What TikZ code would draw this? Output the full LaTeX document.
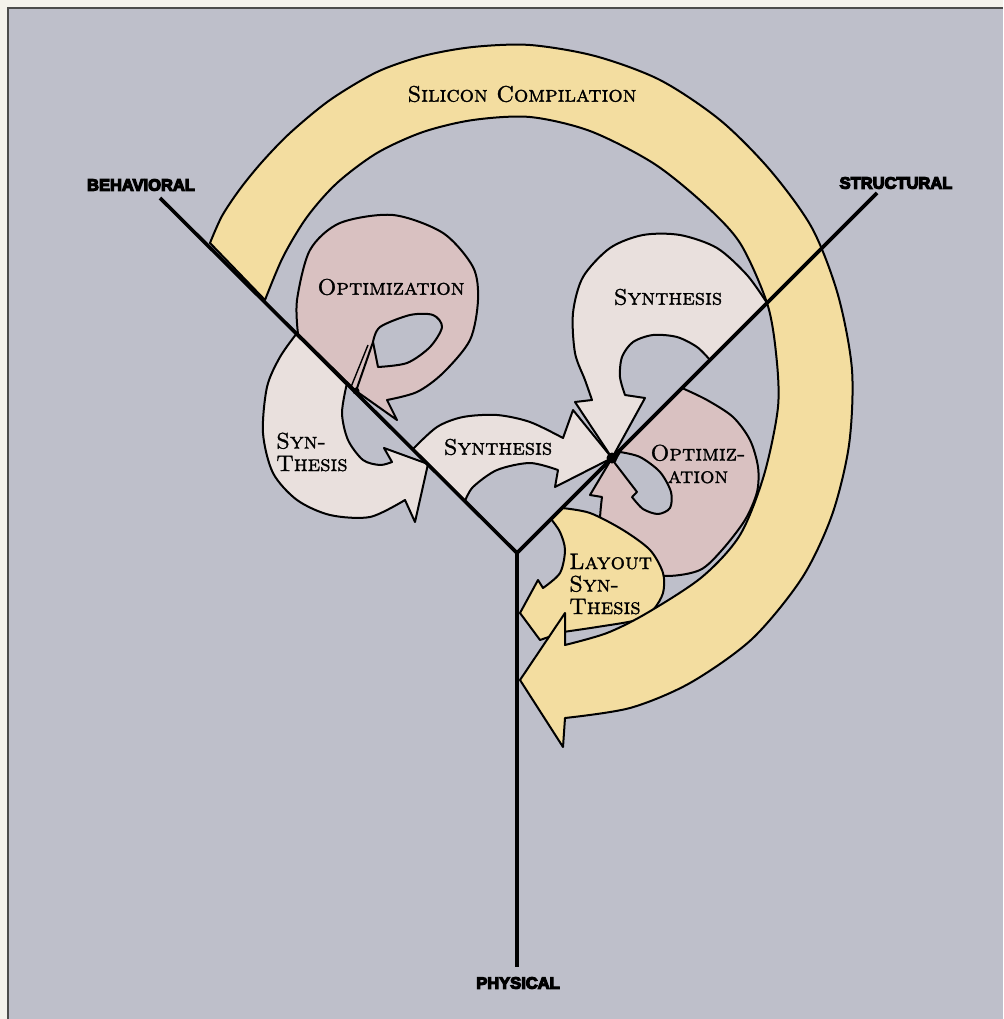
\documentclass[tikz,border=0pt]{standalone}
\usepackage{fontspec}
\newfontfamily\axisfont{Liberation Sans Bold}[FakeBold=7]
\newfontfamily\loopfont{lmromancaps10-regular}[Extension=.otf, FakeBold=1.3]
\definecolor{paper}{HTML}{F4F2EC}
\definecolor{board}{HTML}{BEBFCA}
\definecolor{ringyellow}{HTML}{F3DDA0}
\definecolor{optipink}{HTML}{D9C1C1}
\definecolor{synthlight}{HTML}{E9E0DD}
\begin{document}
\begin{tikzpicture}[x=1pt, y=-1pt,
  every node/.style={inner sep=0pt},
  blob/.style={draw=black, line width=2pt, line join=round},
  ringarrow/.style={blob, fill=ringyellow},
  optiblob/.style={blob, fill=optipink},
  synthblob/.style={blob, fill=synthlight},
  layoutblob/.style={blob, fill=ringyellow},
  holeblob/.style={blob, fill=board},
  axisline/.style={line width=3.6pt, line cap=butt, line join=miter},
  looplabel/.style={font=\loopfont\fontsize{22.5}{22.5}\selectfont},
  axislabel/.style={font=\axisfont\fontsize{16.5}{17}\selectfont}]
  \useasboundingbox (0,0) rectangle (1003,1019);

  % paper and board
  \fill[paper] (0,0) rectangle (1003,1019);
  \fill[board] (8,8) rectangle (1003,1019);
  \draw[line width=1.2pt, black!70] (8,1019) -- (8,8) -- (1003,8);

  % coordinates
  \coordinate (C) at (517,553);
  \coordinate (Bend) at (160,198);
  \coordinate (Send) at (877,193);
  \coordinate (Pend) at (517,967);
  \coordinate (Sdot) at (612,458);
  \coordinate (Bdot) at (356,391);

  % optimization, behavioral side
  \filldraw[optiblob] (298,334) -- plot[smooth] coordinates {(298,334) (297,300) (310,250) (340,223) (393,215) (443,233) (473,267) (478,300) (470,340) (443,373) (417,392) (387,400)}
    -- (397,420) -- (Bdot) -- cycle;
  \filldraw[holeblob] (373,342) -- plot[smooth] coordinates {(373,342) (380,327) (410,315) (433,315) (442,327) (430,347) (407,363) (378,367)} -- cycle;
  \draw[line width=2pt] (373,342) -- (Bdot);
  \draw[line width=1.4pt] (368,345) -- (351,387);

  % synthesis, behavioral side
  \filldraw[synthblob] (297,333) -- plot[smooth] coordinates {(297,333) (280,357) (267,387) (263,433) (273,473) (297,500) (330,515) (370,517) (405,500)}
    -- (415,522) -- (428,464) -- (384,448)
    -- plot[smooth] coordinates {(392,462) (380,465) (363,460) (348,440) (342,413) (347,383)} -- cycle;

  % synthesis, behavioral to structural
  \filldraw[synthblob] (413,449) -- plot[smooth] coordinates {(413,449) (437,427) (463,417) (497,415) (530,422) (563,438)}
    -- (573,410) -- (Sdot) -- (555,487)
    -- plot[smooth] coordinates {(558,470) (530,463) (497,470) (473,487) (465,501)} -- cycle;

  % synthesis, structural side
  \filldraw[synthblob] (767,303) -- plot[smooth] coordinates {(767,303) (747,275) (717,248) (680,235) (643,235) (610,248) (583,277) (573,313) (575,353) (585,380) (592,400)}
    -- (575,402) -- (Sdot) -- (645,398)
    -- plot[smooth] coordinates {(625,395) (620,377) (622,357) (633,342) (653,335) (677,337) (697,347) (710,360)} -- cycle;

  % optimization, structural side
  \filldraw[optiblob] (682,388) -- plot[smooth] coordinates {(682,388) (707,400) (733,417) (750,440) (758,467) (757,492) (745,520) (722,550) (700,570) (667,576) (630,570) (607,550) (600,525) (602,497)}
    -- (590,495) -- (Sdot) -- cycle;
  \filldraw[holeblob] (620,452) -- plot[smooth] coordinates {(620,452) (640,457) (660,472) (671,492) (670,508) (658,514) (643,509) (632,497)}
    -- (637,492) -- (614,462) -- cycle;

  % layout synthesis
  \filldraw[layoutblob] (562,508) -- plot[smooth] coordinates {(562,508) (590,513) (623,530) (650,550) (663,573) (663,593) (653,610) (637,620) (597,627) (563,632)}
    -- (540,640) -- (520,613) -- (538,580)
    -- plot[smooth] coordinates {(543,588) (560,573) (565,550) (560,532) (551,519)} -- cycle;

  % silicon compilation
  \filldraw[ringarrow] plot[smooth] coordinates {(210,243) (222,216) (240,189) (262,162) (290,133) (330,100) (377,72) (423,56) (473,47) (530,45) (595,56) (660,80) (720,120) (770,170) (812,228) (838,295) (852,370) (849,445) (832,515) (802,578) (752,639) (690,683) (630,708) (565,718)}
    -- (563,747) -- (520,680) -- (565,613)
    -- plot[smooth] coordinates {(565,645) (607,633) (647,613) (702,577) (740,535) (764,475) (778,407) (776,353) (767,303) (740,243) (703,203) (653,163) (590,131) (530,117) (473,120) (423,132) (377,153) (337,183) (307,217) (283,257) (265,300)}
    -- cycle;

  % axes
  \draw[axisline] (Bend) -- (C) -- (Send);
  \draw[axisline] (C) -- (Pend);
  \fill (Sdot) circle (5.5pt);
  \fill (Bdot) circle (3.5pt);

  % labels
  \node[looplabel] (silicon) at (522,94) {Silicon Compilation};
  \node[looplabel] (optiB) at (391,287) {Optimization};
  \node[looplabel, align=left, anchor=west] (synthB) at (276,452) {Syn-\\Thesis};
  \node[looplabel] (synthBS) at (498,447) {Synthesis};
  \node[looplabel] (synthS) at (668,297) {Synthesis};
  \node[looplabel, align=center] (optiS) at (698,464) {Optimiz-\\ation};
  \node[looplabel, align=left, anchor=west] (layout) at (569,584) {Layout\\Syn-\\Thesis};

  \node[axislabel] (behav) at (141,185) {BEHAVIORAL};
  \node[axislabel] (struct) at (896,183) {STRUCTURAL};
  \node[axislabel] (phys) at (518,983) {PHYSICAL};
\end{tikzpicture}
\end{document}
